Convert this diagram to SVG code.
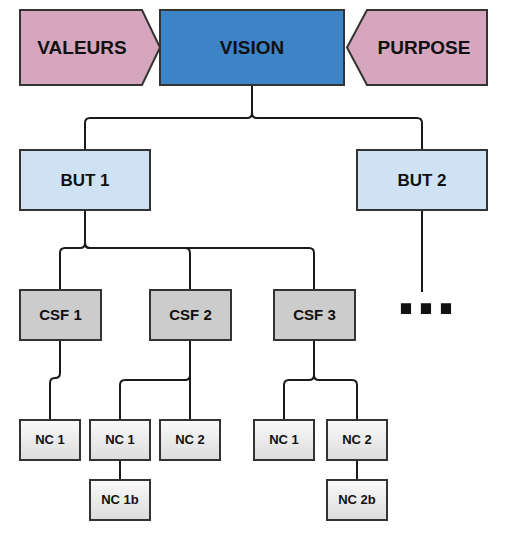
<svg xmlns="http://www.w3.org/2000/svg" width="512" height="540" viewBox="0 0 512 540">
<defs>
<linearGradient id="ncg" x1="0" y1="0" x2="0" y2="1">
<stop offset="0" stop-color="#fafafa"/>
<stop offset="1" stop-color="#dcdcdc"/>
</linearGradient>
</defs>
<style>
.n{stroke:#333333;stroke-width:2}
.t{font-family:"Liberation Sans",Arial,sans-serif;font-weight:bold;fill:#111111;text-anchor:middle}
.c{fill:none;stroke:#1a1a1a;stroke-width:2}
.pink{fill:#d5a6bd}
.but{fill:#cfe2f3}
.csf{fill:#cccccc}
.nc{fill:url(#ncg)}
</style>
<rect width="512" height="540" fill="#ffffff"/>
<g id="connectors">
<path class="c" d="M252,85 V113 Q252,118 257,118 H417 Q422,118 422,123 V150"/>
<path class="c" d="M252,85 V113 Q252,118 247,118 H90 Q85,118 85,123 V150"/>
<path class="c" d="M85,210 V243 Q85,248 80,248 H65 Q60,248 60,253 V290"/>
<path class="c" d="M85,210 V243 Q85,248 90,248 H185 Q190,248 190,253 V290"/>
<path class="c" d="M85,210 V243 Q85,248 90,248 H309 Q314,248 314,253 V290"/>
<path class="c" d="M422,210 V292" stroke="#444444"/>
<path class="c" d="M60,340 V373 Q60,378 55,378 Q50,378 50,383 V420"/>
<path class="c" d="M190,340 V375 Q190,380 185,380 H125 Q120,380 120,385 V420"/>
<path class="c" d="M190,340 V420"/>
<path class="c" d="M314,340 V375 Q314,380 309,380 H289 Q284,380 284,385 V420"/>
<path class="c" d="M314,340 V375 Q314,380 319,380 H352 Q357,380 357,385 V420"/>
<path class="c" d="M120,460 V480"/>
<path class="c" d="M357,460 V480"/>
</g>
<g id="valeurs">
<polygon class="n pink" points="20,10 142,10 160,47.5 142,85 20,85"/>
<text class="t" x="82" y="54" font-size="19">VALEURS</text>
</g>
<g id="vision">
<rect class="n" x="160" y="10" width="184" height="75" fill="#3d84c6"/>
<text class="t" x="252" y="54" font-size="19">VISION</text>
</g>
<g id="purpose">
<polygon class="n pink" points="367,10 487,10 487,85 367,85 347,47.5"/>
<text class="t" x="424" y="54" font-size="19">PURPOSE</text>
</g>
<g id="but1">
<rect class="n but" x="20" y="150" width="130" height="60"/>
<text class="t" x="85" y="186" font-size="17">BUT 1</text>
</g>
<g id="but2">
<rect class="n but" x="357" y="150" width="130" height="60"/>
<text class="t" x="422" y="186" font-size="17">BUT 2</text>
</g>
<g id="more">
<text class="t" x="426" y="314" font-size="72">...</text>
</g>
<g id="csf1">
<rect class="n csf" x="20" y="290" width="81" height="50"/>
<text class="t" x="60.5" y="320" font-size="15">CSF 1</text>
</g>
<g id="csf2">
<rect class="n csf" x="150" y="290" width="81" height="50"/>
<text class="t" x="190.5" y="320" font-size="15">CSF 2</text>
</g>
<g id="csf3">
<rect class="n csf" x="274" y="290" width="81" height="50"/>
<text class="t" x="314.5" y="320" font-size="15">CSF 3</text>
</g>
<g id="nc1a">
<rect class="n nc" x="20" y="420" width="60" height="40"/>
<text class="t" x="50" y="444" font-size="13">NC 1</text>
</g>
<g id="nc1b">
<rect class="n nc" x="90" y="420" width="60" height="40"/>
<text class="t" x="120" y="444" font-size="13">NC 1</text>
</g>
<g id="nc2b">
<rect class="n nc" x="160" y="420" width="60" height="40"/>
<text class="t" x="190" y="444" font-size="13">NC 2</text>
</g>
<g id="nc1c">
<rect class="n nc" x="254" y="420" width="60" height="40"/>
<text class="t" x="284" y="444" font-size="13">NC 1</text>
</g>
<g id="nc2c">
<rect class="n nc" x="327" y="420" width="60" height="40"/>
<text class="t" x="357" y="444" font-size="13">NC 2</text>
</g>
<g id="nc1bb">
<rect class="n nc" x="90" y="480" width="60" height="40"/>
<text class="t" x="120" y="504" font-size="13">NC 1b</text>
</g>
<g id="nc2bb">
<rect class="n nc" x="327" y="480" width="60" height="40"/>
<text class="t" x="357" y="504" font-size="13">NC 2b</text>
</g>
</svg>
